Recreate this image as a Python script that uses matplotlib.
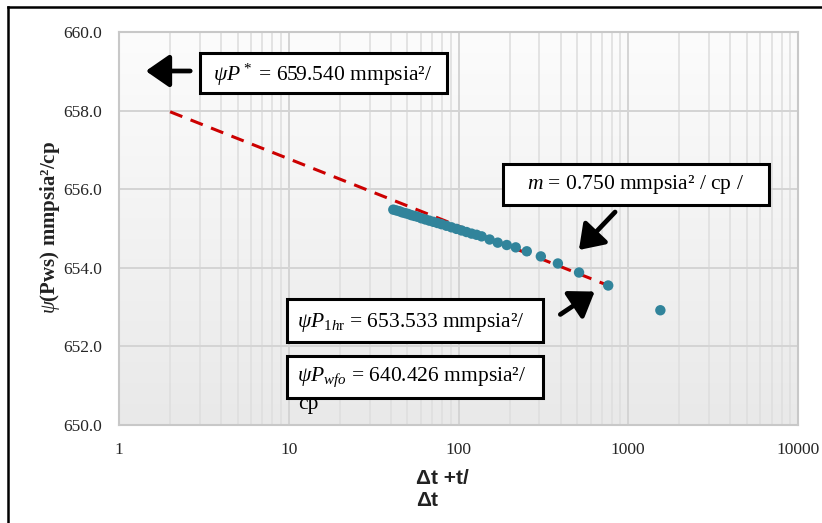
import numpy as np
import matplotlib
matplotlib.use("Agg")
import matplotlib.pyplot as plt
from matplotlib.patches import Rectangle, FancyArrowPatch
from matplotlib.lines import Line2D

# ====== DATA ======
horner_t = [41.3, 43.0, 44.8, 46.6, 48.6, 50.6, 52.7, 54.9, 57.2, 60.4, 63.8,
            67.3, 71.1, 75.1, 79.3, 84.9, 90.9, 97.3, 104.2, 111.5, 119.4,
            127.8, 136.8, 152.5, 170.2, 192.4, 217.4, 252.5, 305.5, 385.0,
            513.0, 762.0, 1546.0]
psi_pws = [655.48, 655.46, 655.44, 655.41, 655.39, 655.37, 655.34, 655.32,
           655.30, 655.26, 655.23, 655.20, 655.17, 655.14, 655.11, 655.07,
           655.03, 654.99, 654.95, 654.91, 654.87, 654.84, 654.80, 654.72,
           654.64, 654.58, 654.52, 654.42, 654.29, 654.11, 653.88, 653.55,
           652.92]

# straight-line fit drawn on the chart
fit_x = [2.0, 762.0]
fit_y = [657.97, 653.55]

y_ticks = [650.0, 652.0, 654.0, 656.0, 658.0, 660.0]
x_ticks = [1, 10, 100, 1000, 10000]
x_tick_labels = ["1", "10", "100", "1000", "10000"]

box_texts = [
    r"$\psi P^*$ = 659.540 mmpsia²/",
    r"$m$ = 0.750 mmpsia² / cp /",
    r"$\psi P_{\mathit{1h}\mathrm{r}}$ = 653.533 mmpsia²/",
    r"$\psi P_{\mathit{wfo}}$ = 640.426 mmpsia²/",
]

# ====== STYLE ======
plt.rcParams["font.family"] = "Liberation Serif"
plt.rcParams["mathtext.fontset"] = "custom"
plt.rcParams["mathtext.rm"] = "Liberation Serif"
plt.rcParams["mathtext.it"] = "Liberation Serif:italic"
plt.rcParams["mathtext.bf"] = "Liberation Serif:bold"

W, H = 822, 523
fig = plt.figure(figsize=(W / 100, H / 100), dpi=100)


def fx(x):
    return x / W


def fy(y):
    return 1 - y / H


rect = [fx(119), fy(425), fx(798) - fx(119), fy(32) - fy(425)]

# gradient background of the plot area
bg = fig.add_axes(rect, zorder=0)
grad = np.linspace(0, 1, 256).reshape(-1, 1)
bg.imshow(grad, aspect="auto", cmap=matplotlib.colors.LinearSegmentedColormap.from_list(
    "g", ["#fcfcfc", "#e9e9e9"]), extent=[0, 1, 0, 1])
bg.axis("off")

ax = fig.add_axes(rect, zorder=1)
ax.set_facecolor("none")
ax.set_xscale("log")
ax.set_xlim(1, 10000)
ax.set_ylim(650, 660)

ax.grid(True, which="major", axis="both", color="#d4d4d4", lw=1.4)
ax.grid(True, which="minor", axis="x", color="#dfdfdf", lw=1.2)
ax.set_axisbelow(True)

ax.plot(fit_x, fit_y, color="#cc0000", lw=2.2, dashes=(4.3, 2.9), zorder=3)
ax.scatter(horner_t, psi_pws, s=56, color="#31849b", edgecolors="none", zorder=4)

ax.set_yticks(y_ticks)
ax.set_yticklabels([f"{v:.1f}" for v in y_ticks])
ax.set_xticks(x_ticks)
ax.set_xticklabels(x_tick_labels)
ax.tick_params(axis="both", which="both", length=0, labelsize=12.5, colors="#262626")
ax.tick_params(axis="x", pad=12)
ax.tick_params(axis="y", pad=12)
for s in ax.spines.values():
    s.set_color("#c8c8c8")
    s.set_linewidth(1.5)

# axis titles
fig.text(fx(50), fy(228), r"$\psi$(Pws) mmpsia²/cp", rotation=90,
         ha="center", va="center", fontsize=15, fontweight="bold", color="#222222")
fig.text(fx(416), fy(478), "Δt +t/", ha="left", va="center", fontsize=15,
         fontweight="bold", family="Liberation Sans", color="#222222")
fig.text(fx(416), fy(500), "Δt", ha="left", va="center", fontsize=15,
         fontweight="bold", family="Liberation Sans", color="#222222")

# outer frame
fig.add_artist(Line2D([fx(8), 1.0], [fy(7), fy(7)], color="black", lw=1.8))
fig.add_artist(Line2D([fx(8), fx(8)], [fy(7), 0.0], color="black", lw=1.8))

# annotation boxes: (x0, y0, x1, y1) in pixels, text anchor
boxes = [
    ((200, 53, 447, 93), (213, 75), "left"),
    ((503, 164, 769, 205), (636, 185), "center"),
    ((287, 299, 543, 342), (297, 322), "left"),
    ((287, 356, 543, 398), (297, 377), "left"),
]
for (x0, y0, x1, y1), (tx, ty), ha in boxes:
    fig.add_artist(Rectangle((fx(x0), fy(y1)), fx(x1) - fx(x0), fy(y0) - fy(y1),
                             facecolor="white", edgecolor="black", lw=2.2, zorder=5))
for ((x0, y0, x1, y1), (tx, ty), ha), txt in zip(boxes, box_texts):
    fig.text(fx(tx), fy(ty), txt, ha=ha, va="center", fontsize=15.5, zorder=6)
fig.text(fx(298), fy(405), "cp", ha="left", va="center", fontsize=15.5, zorder=6)

# arrows (from, to) in pixels
arrows = [((193, 71), (143, 71)), ((617, 210), (577, 252)), ((558, 316), (597, 290))]
for (x0, y0), (x1, y1) in arrows:
    fig.add_artist(FancyArrowPatch(
        (fx(x0), fy(y0)), (fx(x1), fy(y1)), transform=fig.transFigure,
        arrowstyle="-|>,head_length=0.65,head_width=0.45", mutation_scale=22,
        lw=3.4, color="black", zorder=6))

plt.savefig("out.png", dpi=100)
